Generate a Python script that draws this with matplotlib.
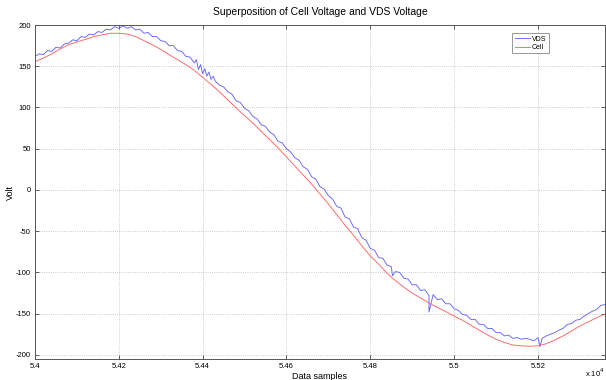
#!/usr/bin/env python
# -*- coding: utf-8 -*-

"""
Superposition of cell voltage and VDS voltage
"""
import numpy as np
import matplotlib
matplotlib.use('Agg')
import matplotlib.pyplot as plt
from matplotlib.ticker import FuncFormatter

# cell voltage, every 20 samples from 54000 to 55360
cell_x = list(range(54000, 55361, 20))
cell_v = [155.5, 160, 165, 171, 176, 179.5, 182.5, 186, 188, 190,
          190, 189, 186, 181, 176, 170.5, 164, 158, 152, 145,
          136.5, 128, 119, 109, 99.5, 90, 81, 71, 61, 51,
          40, 29, 18, 7, -5, -17, -30, -43, -55, -68,
          -80, -90, -101, -110, -118, -125, -131, -137, -142.5, -147.5,
          -153, -158, -164, -170, -176, -181, -185, -188, -189, -189.5,
          -189, -186.5, -182, -177, -171, -165, -160, -155, -150.5]

# VDS voltage, every 10 samples from 54000 to 55360
vds_x = list(range(54000, 55361, 10))
vds_v = [162, 165, 164, 169, 168, 173, 172, 177, 178, 182,
         181, 186, 185, 189, 188, 192, 191, 195, 194, 198,
         196, 199, 196, 198, 194, 195, 190, 191, 186, 186,
         181, 180, 175, 175, 169, 168, 162, 161, 154, 146,
         141, 138, 134, 132, 127, 125, 119, 116, 108, 106,
         99, 96, 89, 86, 79, 77, 70, 67, 59, 57,
         50, 46, 39, 36, 28, 25, 16, 13, 4, 1,
         -7, -11, -20, -22, -33, -35, -45, -47, -58, -61,
         -71, -73, -82, -83, -91, -93, -99, -100, -107, -108,
         -115, -115, -122, -121, -128, -127, -133, -132, -138, -138,
         -144, -146, -151, -152, -157, -157, -163, -163, -168, -168,
         -173, -173, -177, -176, -180, -179, -181, -180, -181, -183,
         -179, -180, -177, -175, -173, -170, -168, -163, -162, -158,
         -157, -153, -150, -147, -145, -140, -139]

# glitches in the VDS trace (sample, volt)
spike_x = [54385, 54395, 54405, 54415, 54425, 54853, 54940, 55205]
spike_v = [158, 152, 147, 143, 138, -104, -148, -190]

title = 'Superposition of Cell Voltage and VDS Voltage'
x_ticks = [54000, 54200, 54400, 54600, 54800, 55000, 55200]
y_ticks = [-200, -150, -100, -50, 0, 50, 100, 150, 200]


def main():
    plt.rcParams['font.family'] = ['Liberation Sans', 'DejaVu Sans']
    plt.rcParams['axes.unicode_minus'] = False

    # merge glitches into the VDS trace
    x_all = np.array(vds_x + spike_x)
    v_all = np.array(vds_v + spike_v)
    order = np.argsort(x_all, kind='stable')
    x_all = x_all[order]
    v_all = v_all[order]

    fig = plt.figure(figsize=(6.06, 3.80), dpi=100)
    ax = fig.add_axes([35 / 606, 21 / 380, 570 / 606, 334 / 380])

    ax.plot(x_all, v_all, color='#6464ff', lw=0.65, label='VDS')
    ax.plot(cell_x, cell_v, color='#ff6464', lw=0.65, label='Cell')

    ax.set_xlim(54000, 55360)
    ax.set_ylim(-205, 200)
    ax.set_xticks(x_ticks)
    ax.set_yticks(y_ticks)
    ax.xaxis.set_major_formatter(FuncFormatter(lambda v, _: '{:g}'.format(v / 1e4)))
    ax.tick_params(direction='in', length=3, width=0.6, labelsize=5.5,
                   top=True, right=True, colors='#444444', labelcolor='black', pad=3)
    ax.grid(True, linestyle=':', color='#bbbbbb', lw=0.6)
    for s in ax.spines.values():
        s.set_color('#555555')
        s.set_linewidth(0.7)

    ax.set_title(title, fontsize=7.5, pad=7)
    ax.set_xlabel('Data samples', fontsize=6.5, labelpad=1)
    ax.set_ylabel('Volt', fontsize=6.5)
    ax.yaxis.set_label_coords(-0.036, 0.5)
    fig.text(0.965, 0.002, 'x 10$^4$', fontsize=5.5, va='bottom')

    leg = ax.legend(loc='upper right', bbox_to_anchor=(0.907, 0.985), fontsize=5,
                    handlelength=2.2, handletextpad=0.3, borderpad=0.3,
                    labelspacing=0.2, fancybox=False, framealpha=1)
    leg.get_frame().set_edgecolor('#888888')
    leg.get_frame().set_linewidth(0.6)

    fig.savefig('out.png', dpi=100)


# ------------------------

if __name__ == '__main__':
    main()
